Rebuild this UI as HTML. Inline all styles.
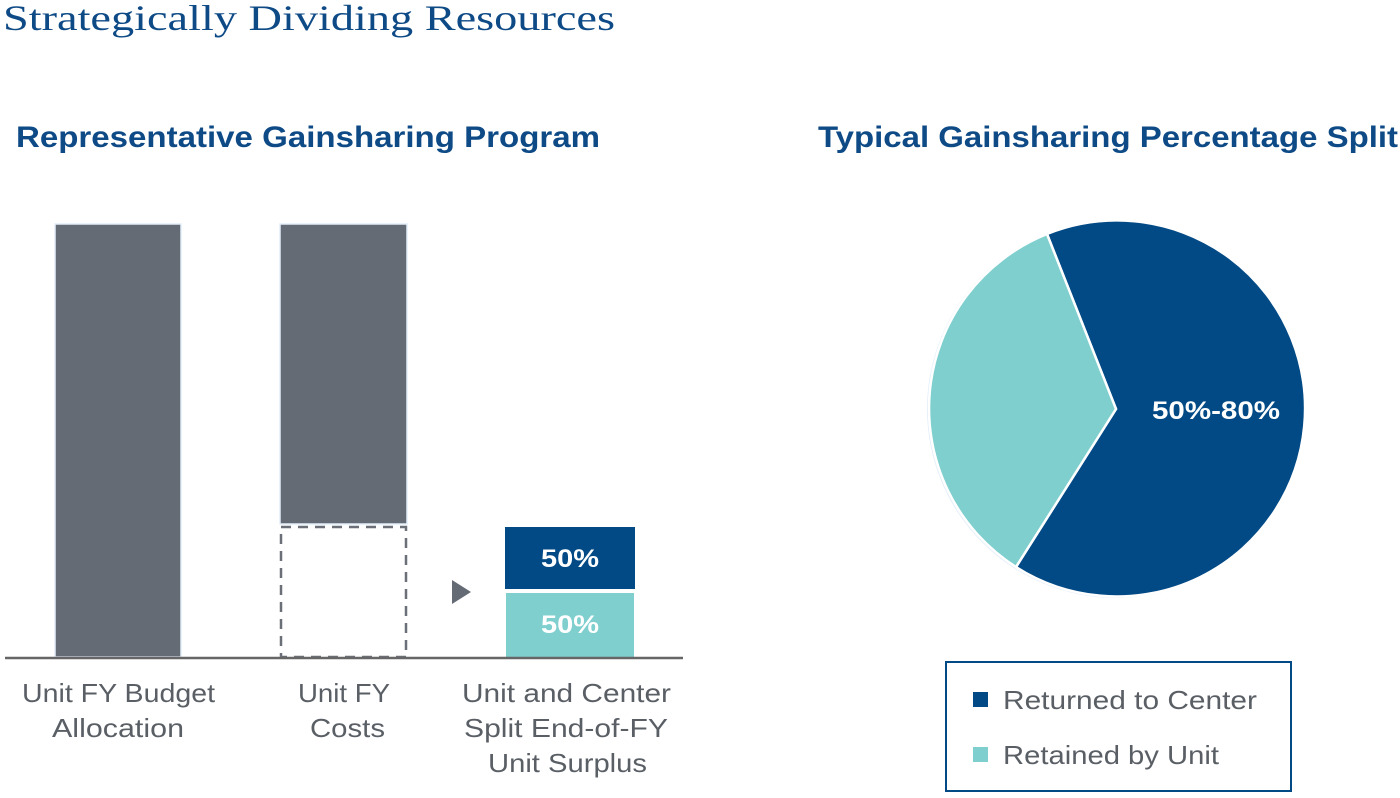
<!DOCTYPE html>
<html><head><style>
body{margin:0;width:1400px;height:798px;background:#fff;overflow:hidden}
text{font-family:"Liberation Sans",sans-serif}
</style></head><body>
<svg width="1400" height="798" style="position:absolute;left:0;top:0">
<text x="3" y="30" font-size="36" fill="#0d4a86" style="font-family:'Liberation Serif',serif" textLength="612" lengthAdjust="spacingAndGlyphs">Strategically Dividing Resources</text>
<text x="16" y="147" font-size="30" font-weight="bold" fill="#0d4a86" textLength="584" lengthAdjust="spacingAndGlyphs">Representative Gainsharing Program</text>
<text x="818" y="147" font-size="30" font-weight="bold" fill="#0d4a86" textLength="580" lengthAdjust="spacingAndGlyphs">Typical Gainsharing Percentage Split</text>
<rect x="55" y="224" width="126" height="433" fill="#646b75" stroke="#e3eefa" stroke-width="1.5"/>
<rect x="280" y="224" width="127" height="300" fill="#646b75" stroke="#e3eefa" stroke-width="1.5"/>
<rect x="281" y="527" width="125" height="130" fill="none" stroke="#6b7078" stroke-width="2.5" stroke-dasharray="10,7"/>
<rect x="505" y="527" width="130" height="62" fill="#024a86"/>
<rect x="506" y="593" width="128" height="64" fill="#7fcfcf"/>
<text x="541" y="567" font-size="25" font-weight="bold" fill="#fff" textLength="58" lengthAdjust="spacingAndGlyphs">50%</text>
<text x="541" y="633" font-size="25" font-weight="bold" fill="#fff" textLength="58" lengthAdjust="spacingAndGlyphs">50%</text>
<polygon points="452,580 471,592 452,604" fill="#646b75"/>
<line x1="5" y1="658" x2="683" y2="658" stroke="#666" stroke-width="2.5"/>
<circle cx="1116" cy="409" r="189" fill="#e3eefa"/>
<path d="M1116,409 L1047,234 A188,188 0 1 1 1016,567 Z" fill="#024a86" stroke="#fff" stroke-width="2.5"/>
<path d="M1116,409 L1016,567 A188,188 0 0 1 1047,234 Z" fill="#7fcfcf" stroke="#fff" stroke-width="2.5"/>
<text x="1152" y="419" font-size="25" font-weight="bold" fill="#fff" textLength="128" lengthAdjust="spacingAndGlyphs">50%-80%</text>
<rect x="946" y="662" width="345" height="129" fill="none" stroke="#024a86" stroke-width="2"/>
<rect x="973" y="692" width="15" height="15" fill="#024a86"/>
<rect x="973" y="747" width="15" height="15" fill="#7fcfcf"/>
<g fill="#5a5f66" font-size="26">
<text x="1003" y="709" textLength="254" lengthAdjust="spacingAndGlyphs">Returned to Center</text>
<text x="1003" y="764" textLength="216" lengthAdjust="spacingAndGlyphs">Retained by Unit</text>
<text x="22" y="702" textLength="193" lengthAdjust="spacingAndGlyphs">Unit FY Budget</text>
<text x="52" y="737" textLength="132" lengthAdjust="spacingAndGlyphs">Allocation</text>
<text x="298" y="702" textLength="92" lengthAdjust="spacingAndGlyphs">Unit FY</text>
<text x="310" y="737" textLength="75" lengthAdjust="spacingAndGlyphs">Costs</text>
<text x="462" y="702" textLength="209" lengthAdjust="spacingAndGlyphs">Unit and Center</text>
<text x="464" y="737" textLength="204" lengthAdjust="spacingAndGlyphs">Split End-of-FY</text>
<text x="488" y="772" textLength="159" lengthAdjust="spacingAndGlyphs">Unit Surplus</text>
</g>
</svg>
</body></html>
